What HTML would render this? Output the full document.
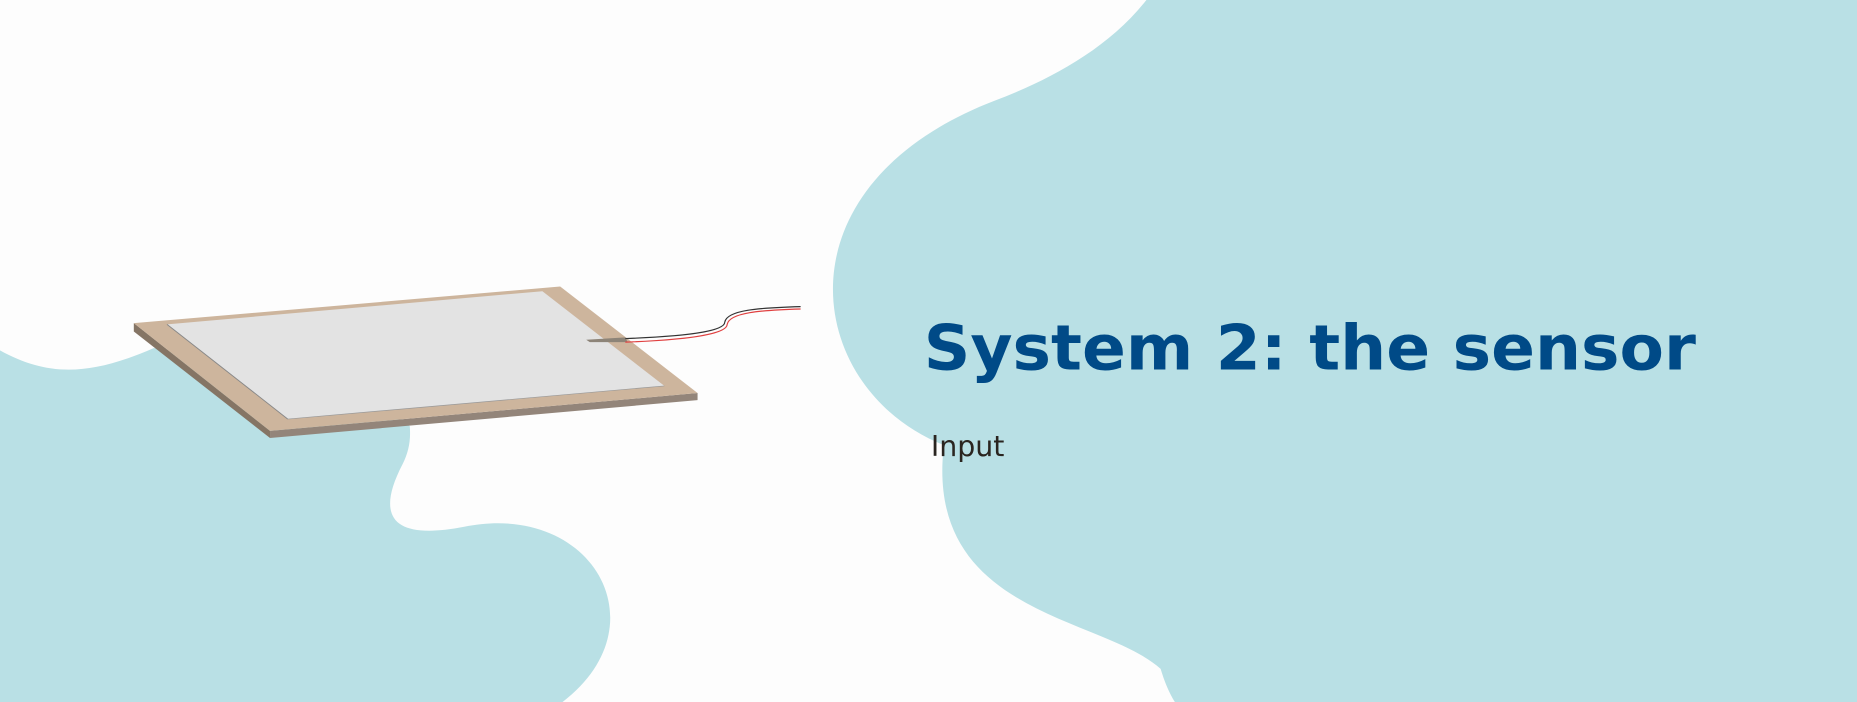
<!DOCTYPE html>
<html><head><meta charset="utf-8"><style>
html,body{margin:0;padding:0;background:#fdfdfd;}
svg{display:block;}
</style></head><body>
<svg width="1857" height="702" viewBox="0 0 1568 593" preserveAspectRatio="none" xmlns="http://www.w3.org/2000/svg">
<rect x="0" y="0" width="1568" height="593" fill="#fdfdfd"/>
<path fill="#b9e0e5" d="M968,0 C935,42 885,68 840,85 C650,158 680,330 797,376 C780,520 930,520 980,565 C983,575 987,585 992,593 L1568,593 L1568,0 Z"/>
<path fill="#b9e0e5" d="M0,296 C40,318 75,318 130,294 L300,320 L346,360 C347,372 345,382 340,392 C315,440 335,456 392,445 C500,423 560,528 475,593 L0,593 Z"/>
<g>
<polygon points="113,273 228,364 228,370 113,280" fill="#857565"/>
<polygon points="228,364 589,332 589,338 228,370" fill="#93857a"/>
<polygon points="113,273 473,242 589,332 228,364" fill="#cdb59d"/>
<polygon points="141,274 458,246 561,326 243,354" fill="#e3e3e3"/>
<line x1="141" y1="274" x2="243" y2="354" stroke="#888" stroke-width="0.8"/>
<line x1="243" y1="354" x2="561" y2="326" stroke="#999" stroke-width="0.6"/>
</g>
<g>
<polygon points="495,287 528,285 530,289 498,289" fill="#8d8478"/>
<path d="M528,286 C580,284 612,280 612,272 C614,262 640,260 676,259" fill="none" stroke="#333" stroke-width="1"/>
<path d="M528,289 C582,287 614,282 614,274 C616,264 642,262 676,261" fill="none" stroke="#e04040" stroke-width="1"/>
</g>
<text x="780" y="312" font-family="DejaVu Sans, Liberation Sans, sans-serif" font-weight="bold" font-size="53" fill="#004a87" textLength="652" lengthAdjust="spacingAndGlyphs">System 2: the sensor</text>
<text x="786" y="385" font-family="DejaVu Sans, Liberation Sans, sans-serif" font-size="24" fill="#2a2520">Input</text>
</svg>
</body></html>
